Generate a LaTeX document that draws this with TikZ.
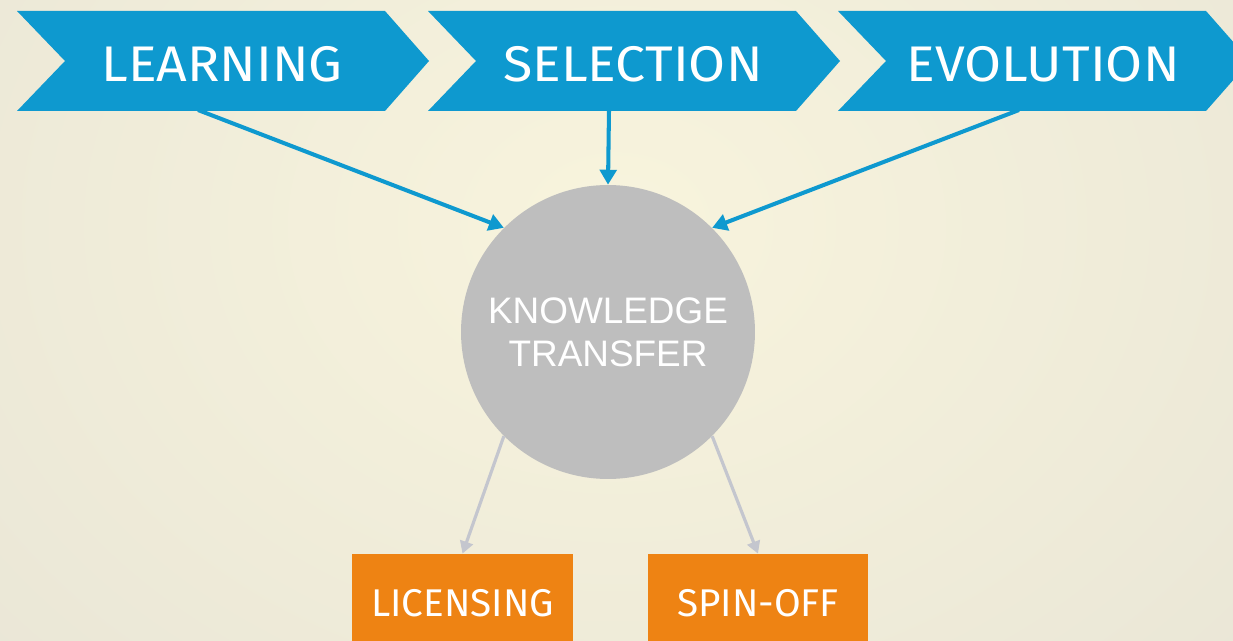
\documentclass[tikz,border=0pt]{standalone}
\usepackage{fontspec}
\setmainfont{Fira Sans}
\newfontfamily\chevfont[FakeStretch=1.07]{Fira Sans}
\newfontfamily\ktfont{Liberation Sans}
\usetikzlibrary{arrows.meta}

\definecolor{chevblue}{HTML}{0E99CF}
\definecolor{ktgray}{HTML}{BEBEBE}
\definecolor{outorange}{HTML}{EE8313}
\definecolor{arrowgray}{HTML}{C4C6CE}
\definecolor{bgin}{HTML}{F8F4DD}
\definecolor{bgout}{HTML}{E2DFD3}

\begin{document}
\begin{tikzpicture}[x=0.02cm, y=-0.02cm,
    chev/.style = {fill=chevblue},
    chevtext/.style = {text=white, font=\chevfont\fontsize{28.5}{30}\selectfont},
    ktnode/.style = {circle, fill=ktgray, inner sep=0pt, minimum size=5.88cm,
        text=white, align=center, font=\ktfont\fontsize{21}{24.4}\selectfont},
    outbox/.style = {fill=outorange, inner sep=0pt, minimum width=4.42cm,
        minimum height=1.96cm, text=white, font=\fontsize{22}{24}\selectfont},
    inarrow/.style = {draw=chevblue, line width=2.3pt, -{Triangle[length=8.5pt, width=9.5pt]}},
    outarrow/.style = {draw=arrowgray, line width=1.8pt, -{Triangle[length=7pt, width=7.5pt]}}]
        \clip (0,0) rectangle (1233,641);
        \shade[inner color=bgin, outer color=bgout] (-700,-800) rectangle (1933,1250);

        % top row of chevrons
        \foreach \x/\nm/\txt in {17/learn/LEARNING, 428/select/SELECTION, 838/evol/EVOLUTION} {
            \fill[chev] (\x,11) -- ++(368,0) -- ++(44,50) -- ++(-44,50)
                -- ++(-368,0) -- ++(48,-50) -- cycle;
            \node[chevtext] (\nm) at (\x+205,64) {\txt};
            \coordinate (\nm-b) at (\x+181,110);
        }

        \node[ktnode] at (608,332) (kt) {KNOWLEDGE\\TRANSFER};
        \node[outbox] at (462.5,603) (lic) {LICENSING};
        \node[outbox] at (758,603) (spin) {SPIN-OFF};

        \draw [inarrow] (learn-b) -- (kt.135);
        \draw [inarrow] (select-b) -- (kt.north);
        \draw [inarrow] (evol-b) -- (kt.45);
        \draw [outarrow] (kt.225) -- (lic.north);
        \draw [outarrow] (kt.315) -- (spin.north);
\end{tikzpicture}
\end{document}
